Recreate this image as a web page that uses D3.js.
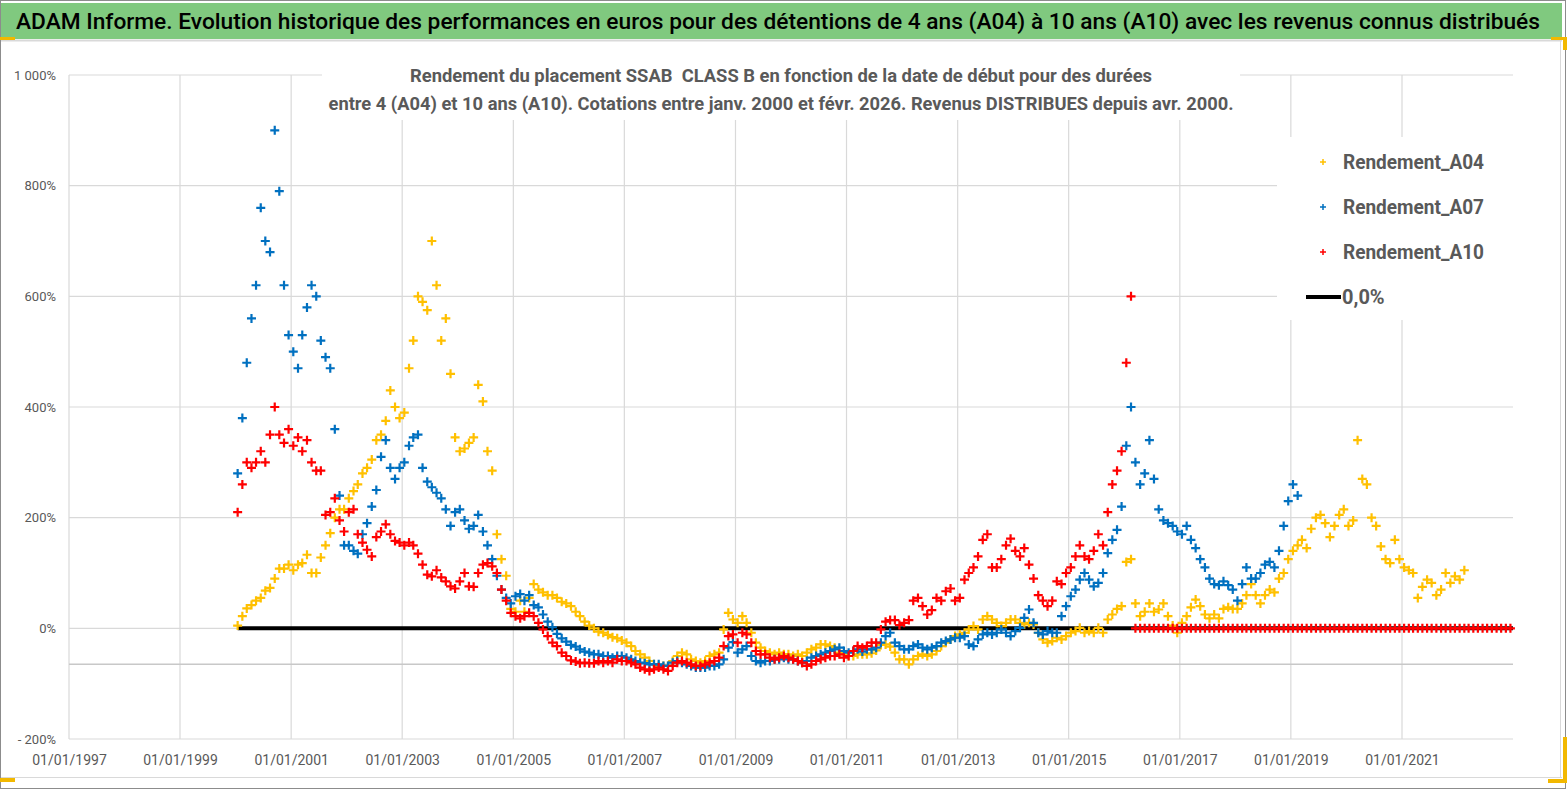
<!DOCTYPE html>
<html lang="fr">
<head>
<meta charset="UTF-8">
<title>ADAM Informe - SSAB CLASS B</title>
<script src="https://d3js.org/d3.v7.min.js"></script>
<style>
    body { margin: 0; background: #fff; }
    svg text { font-family: "Liberation Sans Narrow", "Arial Narrow", Roboto, sans-serif; }
    .axis text { fill: #595959; }
    .axis path { display: none; }
    .subtitle { white-space: pre; }
</style>
</head>
<body>
<script>
    // monthly values (%), first point mid-January 2000
    const firstYear = 2000;

    const rendementA04 = [
        5, 22, 36, 42, 50, 55, 68, 73, 90, 108, 108, 115,
        105, 115, 118, 133, 100, 100, 128, 150, 172, 200, 215, 215,
        235, 248, 260, 280, 290, 305, 340, 350, 375, 430, 400, 380,
        390, 470, 520, 600, 590, 575, 700, 620, 520, 560, 460, 345,
        320, 325, 335, 345, 440, 410, 320, 285, 170, 125, 95, 35,
        30, 50, 30, 55, 80, 70, 65, 60, 60, 55, 48, 45,
        40, 30, 22, 12, 5, 0, -6, -8, -12, -16, -18, -22,
        -26, -32, -41, -47, -53, -59, -65, -68, -68, -68, -59, -50,
        -44, -47, -56, -59, -62, -59, -50, -47, -44, -2, 28, 16,
        10, 22, 10, -8, -26, -35, -41, -44, -47, -44, -47, -47,
        -50, -47, -50, -44, -38, -35, -29, -29, -32, -35, -44, -47,
        -50, -50, -47, -47, -47, -45, -40, -30, -29, -33, -44, -56,
        -56, -65, -56, -50, -47, -50, -47, -41, -32, -26, -20, -14,
        -11, -8, -2, 4, -2, 16, 22, 16, 10, 4, 10, 16,
        16, 10, 7, 10, 7, -8, -20, -26, -23, -17, -20, -14,
        -8, -5, 1, -8, -5, -8, 1, -8, 16, 25, 35, 40,
        120, 125, 45, 22, 30, 45, 30, 34, 45, 22, 5, -8,
        10, 22, 38, 52, 40, 25, 18, 25, 18, 35, 38, 35,
        35, 45, 60, 80, 60, 45, 60, 70, 65, 90, 100, 125,
        140, 150, 160, 145, 180, 200, 205, 190, 165, 185, 205, 215,
        185, 195, 340, 270, 260, 200, 185, 148, 125, 118, 160, 125,
        110, 105, 100, 55, 75, 88, 82, 60, 70, 100, 82, 94,
        88, 105
    ];

    const rendementA07 = [
        280, 380, 480, 560, 620, 760, 700, 680, 900, 790, 620, 530,
        500, 470, 530, 580, 620, 600, 520, 490, 470, 360, 240, 150,
        150, 140, 135, 170, 190, 220, 250, 310, 340, 290, 270, 290,
        300, 330, 345, 350, 290, 265, 255, 245, 235, 215, 185, 210,
        215, 195, 180, 185, 205, 175, 150, 125, 95, 70, 55, 45,
        58, 62, 50, 60, 42, 38, 25, 12, 2, -10, -18, -24,
        -30, -33, -38, -42, -44, -47, -47, -50, -50, -53, -50, -50,
        -53, -56, -59, -62, -63, -65, -65, -65, -68, -68, -62, -59,
        -62, -65, -68, -71, -71, -71, -68, -68, -65, -56, -35, -25,
        -44, -38, -32, -50, -59, -62, -59, -59, -56, -56, -53, -56,
        -56, -59, -62, -59, -53, -50, -47, -44, -41, -38, -35, -41,
        -44, -41, -38, -42, -38, -38, -35, -26, -14, -8, -26, -32,
        -38, -38, -32, -29, -35, -38, -35, -32, -26, -23, -20, -17,
        -17, -14, -29, -32, -20, -11, -8, -11, -8, -2, -8, -14,
        -5, 1, 19, 34, 10, -8, -11, -5, -8, -8, 22, 40,
        58, 70, 88, 100, 88, 76, 82, 100, 136, 160, 178, 220,
        330, 400, 300, 260, 280, 340, 270, 215, 195, 190, 185, 175,
        170, 185, 160, 145, 125, 110, 90, 80, 78, 85, 78, 70,
        50, 80, 110, 90, 90, 100, 115, 120, 110, 140, 185, 230,
        260, 240
    ];

    // after Feb 2016 the 10-year series is plotted at 0
    const rendementA10 = [
        210, 260, 300, 290, 300, 320, 300, 350, 400, 350, 335, 360,
        330, 345, 320, 340, 300, 285, 285, 205, 210, 235, 195, 175,
        210, 215, 170, 155, 142, 130, 165, 175, 188, 170, 158, 155,
        150, 155, 150, 135, 115, 97, 94, 105, 92, 85, 76, 72,
        85, 100, 76, 75, 100, 115, 118, 112, 100, 70, 50, 28,
        22, 18, 22, 28, 22, 10, -2, -14, -26, -32, -44, -50,
        -58, -60, -63, -62, -63, -63, -59, -62, -59, -62, -56, -59,
        -59, -62, -65, -71, -74, -77, -74, -71, -74, -77, -68, -62,
        -59, -62, -65, -68, -68, -65, -62, -59, -53, -32, -14, -11,
        -26, -8, -11, -26, -41, -47, -47, -53, -56, -53, -50, -53,
        -56, -59, -62, -68, -65, -59, -56, -53, -50, -50, -47, -53,
        -50, -41, -32, -35, -32, -26, -26, -2, 12, 15, 15, 6,
        10, 15, 50, 55, 40, 25, 33, 55, 50, 67, 72, 50,
        55, 88, 100, 110, 130, 160, 170, 110, 110, 125, 150, 162,
        140, 130, 145, 115, 90, 60, 50, 40, 50, 85, 80, 100,
        110, 130, 150, 130, 125, 140, 170, 150, 210, 260, 285, 320,
        480, 600, 0, 0, 0, 0, 0, 0, 0, 0, 0, 0,
        0, 0, 0, 0, 0, 0, 0, 0, 0, 0, 0, 0,
        0, 0, 0, 0, 0, 0, 0, 0, 0, 0, 0, 0,
        0, 0, 0, 0, 0, 0, 0, 0, 0, 0, 0, 0,
        0, 0, 0, 0, 0, 0, 0, 0, 0, 0, 0, 0,
        0, 0, 0, 0, 0, 0, 0, 0, 0, 0, 0, 0,
        0, 0, 0, 0, 0, 0, 0, 0, 0, 0, 0, 0
    ];

    // the 0,0% reference line
    const zeroLineDates = ['2000-01-15', '2023-01-01'];
    const zeroLineValues = [0, 0];
    // value where the category axis line crosses
    const axisCross = -65;

    const seriesNames = ['Rendement_A04', 'Rendement_A07', 'Rendement_A10'];
    const seriesColors = ['#FFC000', '#0070C0', '#FF0000'];
    const zeroLineName = '0,0%';

    const yTicks = [-200, 0, 200, 400, 600, 800, 1000];
    const yTickLabels = ['- 200%', '0%', '200%', '400%', '600%', '800%', '1 000%'];
    const xTickLabels = ['01/01/1997', '01/01/1999', '01/01/2001', '01/01/2003', '01/01/2005',
        '01/01/2007', '01/01/2009', '01/01/2011', '01/01/2013', '01/01/2015',
        '01/01/2017', '01/01/2019', '01/01/2021'];

    const title = 'ADAM Informe. Evolution historique des performances en euros pour des détentions de 4 ans (A04) à 10 ans (A10) avec les revenus connus distribués';
    const subtitle = [
        'Rendement du placement SSAB  CLASS B en fonction de la date de début pour des durées',
        'entre 4 (A04) et 10 ans (A10). Cotations entre janv. 2000 et févr. 2026. Revenus DISTRIBUES depuis avr. 2000.'
    ];

    const width = 1567;
    const height = 790;
    const plot = { left: 69, right: 1513, top: 75, bottom: 739 };

    const parseTick = d3.timeParse('%d/%m/%Y');
    const xTickDates = xTickLabels.map(parseTick);

    const toPoints = values => values.map((v, i) => ({ date: new Date(firstYear, i, 15), value: v }));
    const series = [rendementA04, rendementA07, rendementA10].map((vals, i) => ({
        name: seriesNames[i], color: seriesColors[i], points: toPoints(vals)
    }));
    const zeroPoints = zeroLineDates.map((d, i) => ({ date: d3.timeParse('%Y-%m-%d')(d), value: zeroLineValues[i] }));

    const x = d3.scaleTime()
        .domain([new Date(1997, 0, 1), new Date(2023, 0, 1)])
        .range([plot.left, plot.right]);
    const y = d3.scaleLinear()
        .domain([-200, 1000])
        .range([plot.bottom, plot.top]);

    const svg = d3.select('body').append('svg')
        .attr('width', width)
        .attr('height', height);

    svg.append('rect').attr('width', width).attr('height', height).attr('fill', '#fff');

    // title bar
    svg.append('rect')
        .attr('x', 0).attr('y', 3).attr('width', 1562).attr('height', 36)
        .attr('fill', '#80c97f');
    svg.append('text')
        .attr('x', 16).attr('y', 29)
        .attr('textLength', 1524).attr('lengthAdjust', 'spacingAndGlyphs')
        .style('font-size', '22px').style('font-weight', 500).attr('fill', '#000')
        .text(title);

    // frame
    svg.append('line').attr('x1', 0).attr('x2', 1562).attr('y1', 40.5).attr('y2', 40.5)
        .attr('stroke', '#d9d9d9').attr('stroke-width', 2);
    svg.append('line').attr('x1', 1560.5).attr('x2', 1560.5).attr('y1', 40).attr('y2', 777)
        .attr('stroke', '#d9d9d9');
    svg.append('line').attr('x1', 0).attr('x2', 1562).attr('y1', 777.5).attr('y2', 777.5)
        .attr('stroke', '#d9d9d9');
    svg.append('rect').attr('x', 0.5).attr('y', 0.5).attr('width', 1565).attr('height', 788)
        .attr('fill', 'none').attr('stroke', '#8c8c8c');
    const handles = [[0, 37, 15, 3], [1551, 37, 16, 3], [1563, 37, 4, 13],
        [0, 778, 15, 4], [1563, 737, 4, 46], [1548, 779, 19, 4]];
    svg.append('g').selectAll('rect').data(handles).enter().append('rect')
        .attr('x', d => d[0]).attr('y', d => d[1]).attr('width', d => d[2]).attr('height', d => d[3])
        .attr('fill', '#f2b800');

    // gridlines
    const grid = svg.append('g').attr('stroke', '#d9d9d9').attr('stroke-width', 1.2);
    grid.selectAll('.h').data(yTicks).enter().append('line')
        .attr('x1', plot.left).attr('x2', plot.right)
        .attr('y1', d => y(d)).attr('y2', d => y(d));
    grid.selectAll('.v').data(xTickDates).enter().append('line')
        .attr('x1', d => x(d)).attr('x2', d => x(d))
        .attr('y1', plot.top).attr('y2', plot.bottom);
    svg.append('line')
        .attr('x1', plot.left).attr('x2', plot.right)
        .attr('y1', y(axisCross)).attr('y2', y(axisCross))
        .attr('stroke', '#c8c8c8').attr('stroke-width', 1.5);

    // axes
    svg.append('g').attr('class', 'axis')
        .attr('transform', `translate(${plot.left},0)`)
        .call(d3.axisLeft(y).tickValues(yTicks).tickFormat((d, i) => yTickLabels[i]).tickSize(0).tickPadding(13))
        .selectAll('text').style('font-size', '13px');
    svg.append('g').attr('class', 'axis')
        .attr('transform', `translate(0,${plot.bottom})`)
        .call(d3.axisBottom(x).tickValues(xTickDates).tickFormat((d, i) => xTickLabels[i]).tickSize(0).tickPadding(16))
        .selectAll('text').style('font-size', '14px');

    // subtitle box
    svg.append('rect').attr('x', 322).attr('y', 56).attr('width', 918).attr('height', 64).attr('fill', '#fff');
    svg.append('text').attr('class', 'subtitle').attr('x', 781).attr('y', 82).attr('text-anchor', 'middle')
        .attr('textLength', 742).attr('lengthAdjust', 'spacingAndGlyphs')
        .style('font-size', '18px').style('font-weight', 'bold').attr('fill', '#595959')
        .text(subtitle[0]);
    svg.append('text').attr('class', 'subtitle').attr('x', 781).attr('y', 110).attr('text-anchor', 'middle')
        .attr('textLength', 905).attr('lengthAdjust', 'spacingAndGlyphs')
        .style('font-size', '18px').style('font-weight', 'bold').attr('fill', '#595959')
        .text(subtitle[1]);

    // zero line
    svg.append('path')
        .datum(zeroPoints)
        .attr('fill', 'none').attr('stroke', '#000').attr('stroke-width', 4)
        .attr('d', d3.line().x(d => x(d.date)).y(d => y(d.value)));

    const plus = 'M-4.5,0H4.5M0,-4.5V4.5';

    series.forEach(s => {
        svg.append('g')
            .selectAll('path')
            .data(s.points)
            .enter().append('path')
            .attr('d', plus)
            .attr('transform', d => `translate(${x(d.date)},${y(d.value)})`)
            .attr('stroke', s.color)
            .attr('stroke-width', 2.2)
            .attr('fill', 'none');
    });

    // legend
    const legend = svg.append('g');
    legend.append('rect').attr('x', 1277).attr('y', 137).attr('width', 240).attr('height', 183).attr('fill', '#fff');
    const rows = [162, 207, 252];
    series.forEach((s, i) => {
        legend.append('path').attr('d', 'M-3,0H3M0,-3V3')
            .attr('transform', `translate(1323,${rows[i]})`)
            .attr('stroke', s.color).attr('stroke-width', 1.5);
        legend.append('text').attr('x', 1343).attr('y', rows[i] + 7)
            .attr('textLength', 141).attr('lengthAdjust', 'spacingAndGlyphs')
            .style('font-size', '20px').style('font-weight', 'bold').attr('fill', '#595959')
            .text(s.name);
    });
    legend.append('line').attr('x1', 1306).attr('x2', 1341).attr('y1', 297).attr('y2', 297)
        .attr('stroke', '#000').attr('stroke-width', 4);
    legend.append('text').attr('x', 1342).attr('y', 304)
        .style('font-size', '20px').style('font-weight', 'bold').attr('fill', '#595959')
        .text(zeroLineName);
</script>
</body>
</html>
